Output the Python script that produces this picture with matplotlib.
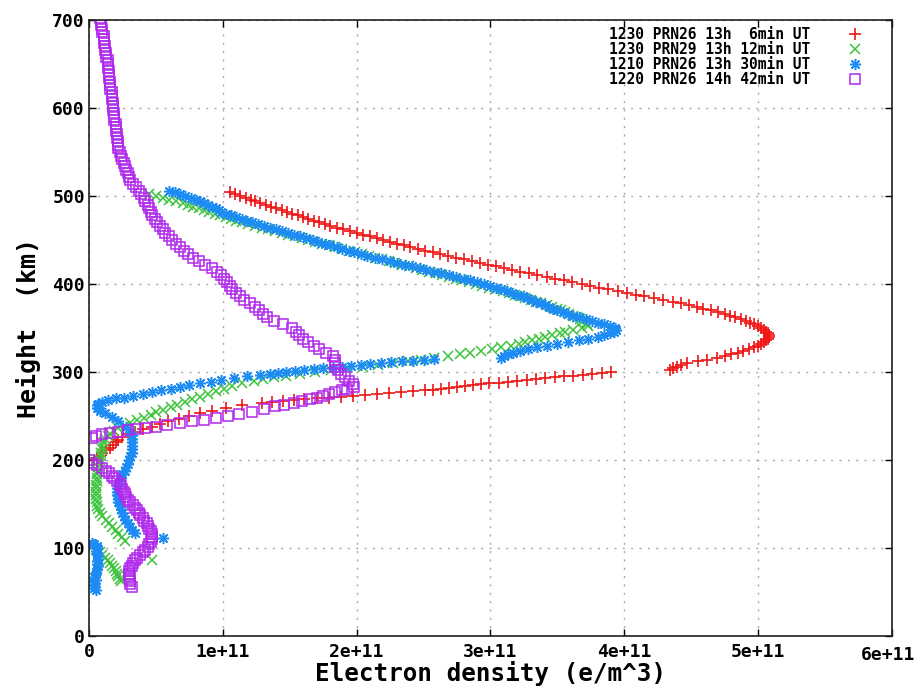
import matplotlib
matplotlib.use('Agg')
import matplotlib.pyplot as plt

# ---------------- data (electron density in units of 1e11 e/m^3, height in km) ----------------
series_labels = ['1230 PRN26 13h  6min UT', '1230 PRN29 13h 12min UT',
                 '1210 PRN26 13h 30min UT', '1220 PRN26 14h 42min UT']

x_ticks = [0, 1e11, 2e11, 3e11, 4e11, 5e11, 6e11]
x_tick_labels = ['0', '1e+11', '2e+11', '3e+11', '4e+11', '5e+11', '']
x_last_label = '6e+11'
y_ticks = [0, 100, 200, 300, 400, 500, 600, 700]
y_tick_labels = ['0', '100', '200', '300', '400', '500', '600', '700']

red_h = [504, 502, 500, 498, 496, 494, 492, 490, 488, 486, 484, 482, 480, 478, 476, 474, 472, 470,
         468, 466, 464, 462, 460, 458, 456, 454, 452, 450, 448, 446, 444, 442, 440, 438, 436, 434,
         432, 430, 428, 426, 424, 422, 420, 418, 416, 414, 412, 410, 408, 406, 404, 402, 400, 398,
         396, 394, 392, 390, 388, 386, 384, 382, 380, 378, 376, 374, 372, 370, 368, 366, 364, 362,
         360, 358, 356, 354, 352, 350, 348, 346, 344, 342, 340,
         338, 336, 334, 332, 330, 328, 326, 324, 322, 320, 318, 316, 314, 312, 310, 308, 306, 304, 302,
         300, 299, 298, 297, 296, 295, 294, 293, 292, 291, 290, 289, 288, 287, 286, 285, 284, 283,
         282, 281, 280, 279, 278, 277, 276, 275, 274, 273, 272, 271, 270, 269, 268, 267, 266, 265,
         262, 259, 256, 253, 250, 247, 244, 241, 238, 235, 232, 229, 226, 223, 220, 217, 214, 211,
         208, 205, 202, 200]
red_ne = [1.05, 1.09, 1.13, 1.17, 1.21, 1.24, 1.28, 1.32, 1.36, 1.40,
          1.44, 1.48, 1.52, 1.56, 1.60, 1.64, 1.68, 1.72, 1.76, 1.80,
          1.85, 1.90, 1.95, 2.00, 2.05, 2.10, 2.15, 2.20, 2.25, 2.30,
          2.35, 2.40, 2.46, 2.51, 2.57, 2.62, 2.68, 2.74, 2.80, 2.86,
          2.92, 2.98, 3.04, 3.10, 3.16, 3.22, 3.29, 3.35, 3.42, 3.48,
          3.55, 3.61, 3.68, 3.74, 3.81, 3.88, 3.95, 4.02, 4.09, 4.15,
          4.22, 4.29, 4.36, 4.42, 4.48, 4.54, 4.59, 4.65, 4.70, 4.75,
          4.79, 4.83, 4.87, 4.91, 4.94, 4.97, 5.00, 5.02, 5.04, 5.06,
          5.07, 5.08, 5.08,
          5.07, 5.06, 5.04, 5.02, 5.00, 4.97, 4.93, 4.89, 4.85, 4.80,
          4.75, 4.69, 4.62, 4.55, 4.47, 4.42, 4.39, 4.36, 4.34,
          3.90, 3.83, 3.76, 3.69, 3.62, 3.55, 3.48, 3.41, 3.34, 3.27,
          3.20, 3.13, 3.06, 2.99, 2.93, 2.87, 2.81, 2.75, 2.69, 2.63,
          2.57, 2.51, 2.42, 2.33, 2.24, 2.15, 2.06, 1.97, 1.88, 1.79,
          1.70, 1.61, 1.53, 1.45, 1.37, 1.29,
          1.14, 1.02, 0.92, 0.83, 0.75, 0.67, 0.59, 0.53, 0.47, 0.40,
          0.34, 0.30, 0.25, 0.22, 0.20, 0.18, 0.16, 0.13, 0.10, 0.08,
          0.06, 0.04]

green_h = [502, 500, 498, 496, 494, 492, 490, 488, 486, 484, 482, 480, 478, 476, 474, 472, 470,
           468, 466, 464, 462, 460, 458, 456, 454, 452, 450, 448, 446, 444, 442, 440, 438, 436,
           434, 432, 430, 428, 426, 424, 422, 420, 418, 416, 414, 412, 410, 408, 406, 404, 402,
           400, 398, 396, 394, 392, 390, 388, 386, 384, 382, 380, 378, 376, 374, 372, 370, 368,
           366, 364, 362, 360, 358, 356, 354, 352,
           350, 348, 346, 344, 342, 340, 338, 336, 334, 332, 330, 328, 326, 324, 322, 320, 318,
           316, 314, 312, 310, 308, 306, 304, 302, 300, 298, 296, 294, 292, 290,
           287, 284, 281, 278, 275, 272, 269, 266, 263, 260, 257,
           254, 251, 248, 245, 242, 239, 236, 233, 230, 227, 224,
           220, 216, 212, 208, 204, 200, 196, 192, 188, 184, 180, 176, 172, 168, 164, 160, 156,
           152, 148, 144, 140,
           136, 132, 128, 124, 120, 116, 112, 108,
           101, 98, 95, 92, 89, 86, 83, 80, 77, 74, 71, 68, 65, 62,
           86]
green_ne = [0.45, 0.50, 0.55, 0.60, 0.65, 0.70, 0.74, 0.78, 0.82, 0.86,
            0.90, 0.94, 0.98, 1.02, 1.06, 1.10, 1.14, 1.19, 1.24, 1.29,
            1.34, 1.39, 1.44, 1.49, 1.54, 1.59, 1.64, 1.69, 1.74, 1.79,
            1.84, 1.89, 1.94, 1.99, 2.04, 2.09, 2.14, 2.19, 2.24, 2.29,
            2.34, 2.39, 2.44, 2.49, 2.54, 2.59, 2.64, 2.69, 2.74, 2.79,
            2.84, 2.89, 2.94, 2.99, 3.04, 3.09, 3.14, 3.18, 3.22, 3.26,
            3.30, 3.34, 3.38, 3.42, 3.46, 3.50, 3.53, 3.56, 3.59, 3.62,
            3.65, 3.67, 3.69, 3.71, 3.72, 3.73,
            3.68, 3.62, 3.56, 3.52, 3.46, 3.41, 3.36, 3.31, 3.26, 3.21,
            3.15, 3.08, 3.01, 2.93, 2.85, 2.77, 2.68, 2.58, 2.48, 2.38,
            2.27, 2.16, 2.05, 1.93, 1.81, 1.69, 1.58, 1.47, 1.38, 1.30,
            1.23,
            1.14, 1.07, 1.01, 0.95, 0.89, 0.83, 0.77, 0.72, 0.66, 0.61, 0.55,
            0.50, 0.46, 0.41, 0.36, 0.31, 0.27, 0.22, 0.19, 0.16, 0.14, 0.12,
            0.11, 0.10, 0.10, 0.09, 0.09, 0.08, 0.08, 0.07, 0.07, 0.06, 0.06, 0.06, 0.05, 0.05,
            0.05, 0.05, 0.05, 0.06, 0.06, 0.07, 0.08,
            0.10, 0.13, 0.15, 0.17, 0.20, 0.22, 0.25, 0.27,
            0.02, 0.05, 0.08, 0.10, 0.12, 0.14, 0.16, 0.17, 0.19, 0.20, 0.21, 0.22, 0.23, 0.24,
            0.47]

blue_h = [506, 504, 502, 500, 498, 496, 494, 492, 490, 488, 486, 484, 482, 480, 478, 476, 474,
          472, 470, 468, 466, 464, 462, 460, 458, 456, 454, 452, 450, 448, 446, 444, 442, 440,
          438, 436, 434, 432, 430, 428, 426, 424, 422, 420, 418, 416, 414, 412, 410, 408, 406,
          404, 402, 400, 398, 396, 394, 392, 390, 388, 386, 384, 382, 380, 378, 376, 374, 372,
          370, 368, 366, 364, 362, 360, 358, 356, 354, 352, 350, 348,
          346, 344, 342, 340, 338, 336, 334, 332, 330, 328, 326, 324, 322, 320, 318, 316,
          315, 314, 313, 312, 311, 310, 309, 308, 307, 306, 305, 304, 303, 302, 301, 300, 299,
          298, 297,
          295, 293, 291, 289, 287, 285, 283, 281, 279, 277, 275, 273, 271,
          270, 268, 266, 264, 262,
          259, 256, 253, 249, 244, 238, 232,
          228, 224, 220, 216, 212, 208, 204, 200, 196, 192, 188, 184, 180, 176, 172, 168, 164,
          160, 156, 152, 148, 144, 140, 136, 132, 128, 124, 120, 117,
          111,
          106, 104, 102, 100, 97, 94, 91, 88, 85, 82, 79, 76, 73, 70, 67, 64, 61, 58, 55, 52]
blue_ne = [0.60, 0.64, 0.68, 0.72, 0.76, 0.80, 0.83, 0.86, 0.89, 0.92,
           0.95, 0.97, 0.99, 1.02, 1.06, 1.10, 1.14, 1.18, 1.22, 1.26,
           1.31, 1.35, 1.40, 1.44, 1.49, 1.53, 1.58, 1.62, 1.67, 1.71,
           1.76, 1.80, 1.85, 1.89, 1.94, 1.98, 2.03, 2.08, 2.14, 2.19,
           2.25, 2.30, 2.36, 2.41, 2.47, 2.52, 2.58, 2.63, 2.69, 2.74,
           2.80, 2.85, 2.90, 2.95, 3.00, 3.04, 3.08, 3.12, 3.16, 3.20,
           3.24, 3.27, 3.31, 3.34, 3.38, 3.41, 3.44, 3.47, 3.50, 3.54,
           3.58, 3.62, 3.66, 3.71, 3.76, 3.80, 3.85, 3.89, 3.93, 3.94,
           3.92, 3.89, 3.85, 3.80, 3.73, 3.66, 3.58, 3.50, 3.42, 3.35,
           3.28, 3.22, 3.17, 3.13, 3.10, 3.08,
           2.58, 2.50, 2.42, 2.34, 2.26, 2.18, 2.10, 2.03, 1.96, 1.89,
           1.82, 1.75, 1.68, 1.61, 1.54, 1.47, 1.41, 1.35, 1.28,
           1.18, 1.08, 0.99, 0.91, 0.83, 0.75, 0.68, 0.61, 0.54, 0.47, 0.40, 0.33, 0.26,
           0.20, 0.14, 0.10, 0.07, 0.06,
           0.06, 0.08, 0.12, 0.17, 0.22, 0.28, 0.31,
           0.32, 0.32, 0.32, 0.32, 0.32, 0.32, 0.31, 0.30, 0.29, 0.28, 0.27, 0.25, 0.24, 0.23,
           0.22, 0.21, 0.21, 0.21, 0.22, 0.22, 0.23, 0.24, 0.25, 0.26, 0.27, 0.29, 0.31, 0.32,
           0.34,
           0.55,
           0.02, 0.04, 0.06, 0.06, 0.05, 0.06, 0.07, 0.07, 0.06, 0.06,
           0.07, 0.06, 0.05, 0.05, 0.04, 0.05, 0.04, 0.04, 0.04, 0.05]

purple_h = [702, 698, 694, 690, 686, 682, 678, 674, 670, 666, 662, 658, 654, 650, 646, 642, 638,
            634, 630, 626, 622, 618, 614, 610, 606, 602, 598, 594, 590, 586, 582, 578, 574, 570,
            566, 562, 558, 554, 550, 546, 542, 538, 534, 530, 526, 522, 518, 514, 510, 506, 502,
            498, 494, 490, 486, 482, 478, 474, 470, 466, 462, 458, 454, 450, 446, 442, 438, 434,
            430, 426, 422, 418, 414,
            410, 406, 402, 398, 394, 390, 386, 382, 378, 374, 370, 366, 362, 358, 354, 350, 346,
            342, 338, 334, 330, 326, 322, 318, 314, 310, 306, 302, 298, 294, 290, 286, 283,
            281, 279, 277, 275, 273, 271, 269, 267, 265, 263, 261, 258, 255, 252, 250, 248, 246,
            244, 242, 240, 238, 236, 235, 234, 232, 231, 229, 227, 225,
            200, 197, 194, 191, 188, 185, 182, 179, 176, 173, 170, 167, 164, 161, 158, 155, 152,
            149, 146, 143, 140, 137, 134, 131, 128, 125, 122, 119, 116, 113, 110, 107, 104, 101,
            98, 95, 92, 89, 86, 83, 80, 77, 74, 71, 68, 65, 62, 59, 56]
purple_ne = [0.08, 0.09, 0.09, 0.10, 0.10, 0.11, 0.11, 0.11, 0.12, 0.12,
             0.13, 0.13, 0.14, 0.14, 0.14, 0.15, 0.15, 0.15, 0.16, 0.16,
             0.16, 0.17, 0.17, 0.17, 0.18, 0.18, 0.18, 0.19, 0.19, 0.19,
             0.20, 0.20, 0.20, 0.21, 0.21, 0.22, 0.22, 0.22, 0.23, 0.24,
             0.25, 0.26, 0.27, 0.28, 0.29, 0.30, 0.31, 0.33, 0.35, 0.37,
             0.39, 0.41, 0.42, 0.44, 0.45, 0.46, 0.47, 0.49, 0.51, 0.53,
             0.55, 0.57, 0.60, 0.62, 0.65, 0.68, 0.71, 0.74, 0.78, 0.82,
             0.87, 0.92, 0.96,
             0.99, 1.01, 1.03, 1.05, 1.07, 1.10, 1.13, 1.16, 1.20, 1.24,
             1.27, 1.30, 1.33, 1.38, 1.45, 1.52, 1.55, 1.57, 1.60, 1.64,
             1.68, 1.72, 1.77, 1.82, 1.84, 1.84, 1.84, 1.86, 1.88, 1.91,
             1.94, 1.97, 1.98,
             1.93, 1.89, 1.84, 1.79, 1.75, 1.70, 1.65, 1.59, 1.53, 1.46,
             1.39, 1.31, 1.22, 1.12, 1.04, 0.95, 0.86, 0.77, 0.68, 0.58,
             0.50, 0.42, 0.35, 0.29, 0.22, 0.16, 0.10, 0.05, 0.02,
             0.00, 0.02, 0.06, 0.10, 0.13, 0.15, 0.17, 0.19, 0.21, 0.23,
             0.24, 0.25, 0.26, 0.27, 0.28, 0.29, 0.31, 0.33, 0.34, 0.36,
             0.37, 0.38, 0.40, 0.41, 0.43, 0.44, 0.45, 0.46, 0.47, 0.47,
             0.47, 0.46, 0.45, 0.44, 0.42, 0.40, 0.38, 0.36, 0.34, 0.33,
             0.32, 0.31, 0.30, 0.30, 0.30, 0.31, 0.31, 0.31, 0.32]

NE_UNIT = 1e11

# ---------------- figure ----------------
MONO = 'DejaVu Sans Mono'
plt.rcParams['font.family'] = [MONO]
plt.rcParams['font.weight'] = 'bold'

fig = plt.figure(figsize=(9.23, 6.89), dpi=100)
ax = fig.add_axes([89 / 923, 1 - 636 / 689, (892 - 89) / 923, (636 - 20) / 689])

styles = [
    dict(color='#f01414', marker='+', ms=8, mew=1.2),
    dict(color='#3cc43c', marker='x', ms=6.5, mew=1.1),
    dict(color='#1c8cf4', marker=(8, 2, 0), ms=8, mew=1.1),
    dict(color='#b028ec', marker='s', ms=6.5, mew=1.1, mfc='none'),
]
all_series = [(red_ne, red_h), (green_ne, green_h), (blue_ne, blue_h), (purple_ne, purple_h)]
for (ne, h), st, lab in zip(all_series, styles, series_labels):
    ax.plot([v * NE_UNIT for v in ne], h, linestyle='none', label=lab, **st)

ax.set_xlim(0, 6e11)
ax.set_ylim(0, 700)
ax.set_xticks(x_ticks)
ax.set_xticklabels(x_tick_labels)
ax.set_yticks(y_ticks)
ax.set_yticklabels(y_tick_labels)
ax.tick_params(direction='in', length=5, width=1, top=True, right=True,
               labelsize=13, pad=3)
ax.tick_params(axis='x', pad=5)
for lab in ax.get_xticklabels() + ax.get_yticklabels():
    lab.set_fontweight('bold')
ax.annotate(x_last_label, xy=(6e11, 0), xycoords='data', xytext=(-3, -14),
            textcoords='offset points', ha='center', va='center',
            fontsize=13, fontweight='bold', annotation_clip=False)

ax.grid(True, color='#a8a8a8', linestyle=(0, (1.5, 4.5)), linewidth=1)
for s in ax.spines.values():
    s.set_linewidth(1.2)
    s.set_color('#202020')

ax.set_xlabel('Electron density (e/m^3)', fontsize=17.5, fontweight='bold', va='center')
ax.xaxis.set_label_coords(0.5, (636 - 673) / 616)
ax.set_ylabel('Height  (km)', fontsize=18, fontweight='bold', labelpad=8)

leg = ax.legend(loc='upper right', bbox_to_anchor=((866 - 89) / 803, 1 - 7 / 616),
                frameon=False, markerfirst=False,
                prop=dict(family=MONO, weight='bold', size=10.5),
                labelspacing=0.0, handlelength=1.5, handletextpad=2.3,
                borderaxespad=0.0, borderpad=0.0)

fig.savefig('out.png', dpi=100)
